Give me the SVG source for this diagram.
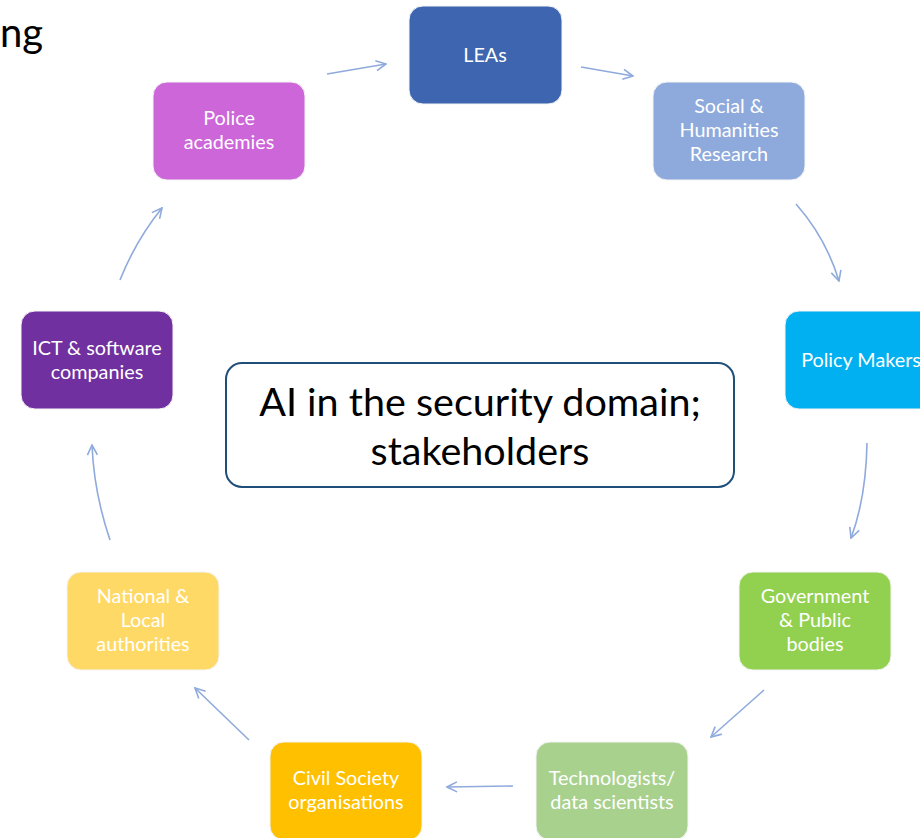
<svg xmlns="http://www.w3.org/2000/svg" width="920" height="838" viewBox="0 0 920 838">
<defs>
<style>
.node rect{stroke:#f4f4f4;stroke-width:1}
.node text{font-family:Lato,"Open Sans",sans-serif;font-size:19.8px;fill:#ffffff;text-anchor:middle}
.conn path{fill:none;stroke:#8faadc;stroke-width:1.6;marker-end:url(#arr)}
.title{font-family:Lato,"Open Sans",sans-serif;fill:#000}
</style>
<marker id="arr" viewBox="0 0 12 12" refX="11" refY="6" markerWidth="12" markerHeight="12" markerUnits="userSpaceOnUse" orient="auto">
<path d="M1,1 L11,6 L1,11" fill="none" stroke="#8faadc" stroke-width="1.6"/>
</marker>
</defs>
<rect width="920" height="838" fill="#ffffff"/>
<text class="title" x="0" y="47" font-size="40">ng</text>

<g class="conn">
<path d="M327,74 L386,64"/>
<path d="M581,67 L633,76"/>
<path d="M796,204 Q826,238 839,281"/>
<path d="M867,443 Q866,498 851,538"/>
<path d="M764,690 L711,737"/>
<path d="M513,786 L447,787"/>
<path d="M249,740 L195,688"/>
<path d="M110,540 Q94,493 92,445"/>
<path d="M120,280 Q136,240 162,208"/>
</g>

<g id="leas" class="node"><rect x="409" y="6" width="153" height="98" rx="14" fill="#3d65b0"/><text x="485" y="62">LEAs</text></g>
<g id="police" class="node"><rect x="153" y="82" width="152" height="98" rx="14" fill="#cc66d9"/><text x="229" y="125">Police</text><text x="229" y="149">academies</text></g>
<g id="social" class="node"><rect x="653" y="82" width="152" height="98" rx="14" fill="#8eaadc"/><text x="729" y="113">Social &amp;</text><text x="729" y="137">Humanities</text><text x="729" y="161">Research</text></g>
<g id="policy" class="node"><rect x="785" y="311" width="152" height="98" rx="14" fill="#00b0f0"/><text x="861" y="367">Policy Makers</text></g>
<g id="gov" class="node"><rect x="739" y="572" width="152" height="98" rx="14" fill="#92d050"/><text x="815" y="603">Government</text><text x="815" y="627">&amp; Public</text><text x="815" y="651">bodies</text></g>
<g id="tech" class="node"><rect x="536" y="742" width="152" height="98" rx="14" fill="#a9d18e"/><text x="612" y="785">Technologists/</text><text x="612" y="809">data scientists</text></g>
<g id="civil" class="node"><rect x="270" y="742" width="152" height="98" rx="14" fill="#ffc000"/><text x="346" y="785">Civil Society</text><text x="346" y="809">organisations</text></g>
<g id="national" class="node"><rect x="67" y="572" width="152" height="98" rx="14" fill="#ffd966"/><text x="143" y="603">National &amp;</text><text x="143" y="627">Local</text><text x="143" y="651">authorities</text></g>
<g id="ict" class="node"><rect x="21" y="311" width="152" height="98" rx="14" fill="#7030a0"/><text x="97" y="355">ICT &amp; software</text><text x="97" y="379">companies</text></g>

<g id="center">
<rect x="226" y="363" width="508" height="124" rx="16" fill="#ffffff" stroke="#1f4e79" stroke-width="2"/>
<text class="title" x="480" y="416" font-size="39.5" text-anchor="middle">AI in the security domain;</text>
<text class="title" x="480" y="465" font-size="39.5" text-anchor="middle">stakeholders</text>
</g>
</svg>
